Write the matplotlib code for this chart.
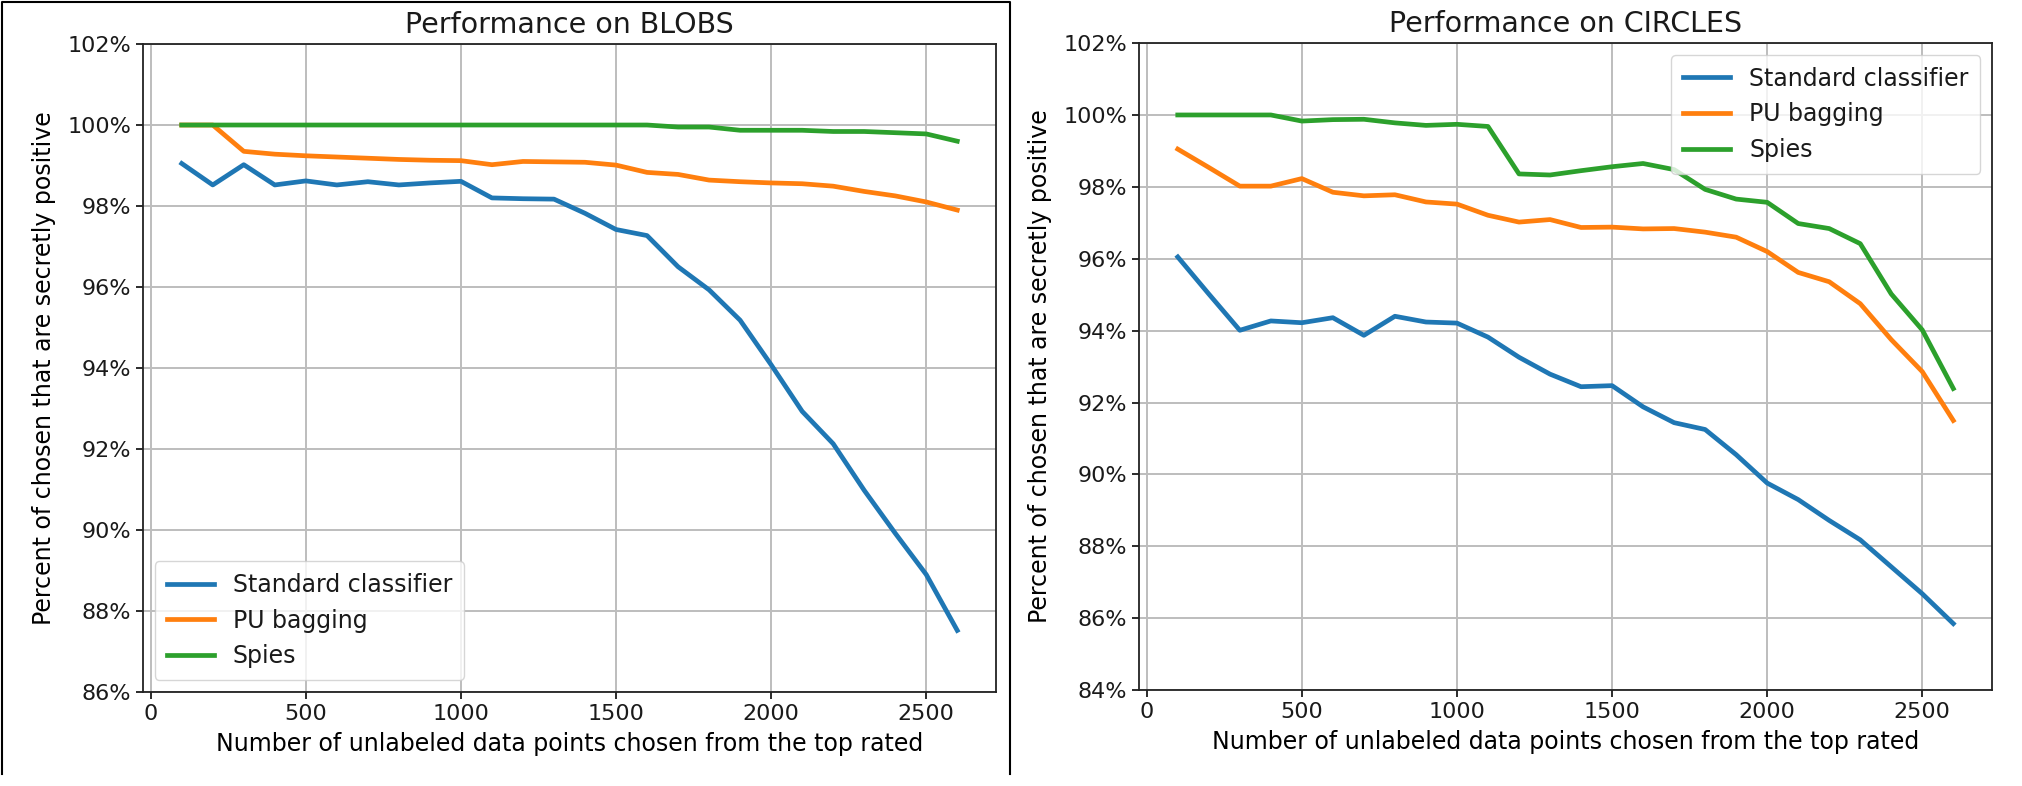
import numpy as np
import matplotlib

matplotlib.use("Agg")
import matplotlib.pyplot as plt
import matplotlib.lines as mlines
from matplotlib.ticker import MultipleLocator, FuncFormatter

plt.rcParams.update(
    {
        "font.family": "DejaVu Sans",
        "font.size": 16,
        "axes.titlesize": 20.5,
        "axes.labelsize": 17,
        "xtick.labelsize": 16,
        "ytick.labelsize": 16,
        "legend.fontsize": 17,
        "axes.linewidth": 1.3,
        "text.color": "#1a1a1a",
        "xtick.color": "#1a1a1a",
        "ytick.color": "#1a1a1a",
    }
)

# ---------------------------------------------------------------------------
# Data
# ---------------------------------------------------------------------------

n_chosen = list(range(100, 2700, 100))

SERIES_LABELS = ["Standard classifier", "PU bagging", "Spies"]
SERIES_COLORS = ["tab:blue", "tab:orange", "tab:green"]

blobs_standard = [
    99.05, 98.52, 99.02, 98.52, 98.62, 98.52, 98.60, 98.52, 98.57, 98.61,
    98.20, 98.18, 98.17, 97.82, 97.42, 97.27, 96.50, 95.93, 95.18, 94.08,
    92.93, 92.13, 90.98, 89.92, 88.90, 87.52,
]
blobs_bagging = [
    100.0, 100.0, 99.35, 99.28, 99.24, 99.21, 99.18, 99.15, 99.13, 99.12,
    99.02, 99.10, 99.09, 99.08, 99.01, 98.83, 98.78, 98.64, 98.60, 98.57,
    98.55, 98.49, 98.36, 98.25, 98.10, 97.90,
]
blobs_spies = [
    100.0, 100.0, 100.0, 100.0, 100.0, 100.0, 100.0, 100.0, 100.0, 100.0,
    100.0, 100.0, 100.0, 100.0, 100.0, 100.0, 99.95, 99.95, 99.87, 99.87,
    99.87, 99.84, 99.84, 99.81, 99.78, 99.60,
]

circles_standard = [
    96.05, 95.02, 94.01, 94.27, 94.22, 94.36, 93.87, 94.40, 94.24, 94.21,
    93.82, 93.26, 92.79, 92.44, 92.47, 91.88, 91.44, 91.25, 90.55, 89.76,
    89.30, 88.72, 88.18, 87.43, 86.68, 85.85,
]
circles_bagging = [
    99.05, 98.54, 98.02, 98.02, 98.23, 97.85, 97.75, 97.78, 97.58, 97.52,
    97.21, 97.02, 97.09, 96.87, 96.88, 96.83, 96.84, 96.74, 96.60, 96.20,
    95.62, 95.36, 94.75, 93.75, 92.86, 91.50,
]
circles_spies = [
    100.0, 100.0, 100.0, 100.0, 99.83, 99.87, 99.88, 99.78, 99.71, 99.74,
    99.68, 98.36, 98.33, 98.45, 98.56, 98.65, 98.48, 97.93, 97.66, 97.57,
    96.98, 96.84, 96.42, 95.02, 94.02, 92.39,
]

PANELS = [
    {
        "title": "Performance on BLOBS",
        "series": [blobs_standard, blobs_bagging, blobs_spies],
        "ylim": (86, 102),
        "legend_loc": "lower left",
        "rect": [0.0707, 0.1196, 0.4219, 0.8244],
    },
    {
        "title": "Performance on CIRCLES",
        "series": [circles_standard, circles_bagging, circles_spies],
        "ylim": (84, 102),
        "legend_loc": "upper right",
        "rect": [0.5633, 0.1220, 0.4219, 0.8232],
    },
]

XLABEL = "Number of unlabeled data points chosen from the top rated"
YLABEL = "Percent of chosen that are secretly positive"

# ---------------------------------------------------------------------------
# Figure
# ---------------------------------------------------------------------------

fig = plt.figure(figsize=(20.22, 7.86), dpi=100)

for panel in PANELS:
    ax = fig.add_axes(panel["rect"])
    for vals, lab, col in zip(panel["series"], SERIES_LABELS, SERIES_COLORS):
        ax.plot(n_chosen, vals, color=col, lw=3.4, label=lab)
    ax.set_ylim(*panel["ylim"])
    ax.yaxis.set_major_locator(MultipleLocator(2))
    ax.yaxis.set_major_formatter(FuncFormatter(lambda v, _: f"{v:.0f}%"))
    ax.xaxis.set_major_locator(MultipleLocator(500))
    ax.grid(True, color="#bdbdbd", lw=1.4)
    ax.set_axisbelow(True)
    for sp in ax.spines.values():
        sp.set_color("#222222")
    ax.tick_params(length=5, width=1.3)
    ax.set_title(panel["title"], pad=8)
    ax.set_xlabel(XLABEL, labelpad=6)
    ax.set_ylabel(YLABEL, labelpad=8)
    ax.legend(loc=panel["legend_loc"], framealpha=0.8, borderpad=0.5)

# thin frame around the left screenshot (no bottom edge in the reference)
fx0, fx1 = 2 / 2022, 1010 / 2022
fy0, fy1 = 1 - 774 / 786, 1 - 2 / 786
fig.add_artist(
    mlines.Line2D([fx0, fx0, fx1, fx1], [fy0, fy1, fy1, fy0],
                  transform=fig.transFigure, color="black", lw=1.5)
)

fig.savefig("out.png", dpi=100)
plt.close(fig)
